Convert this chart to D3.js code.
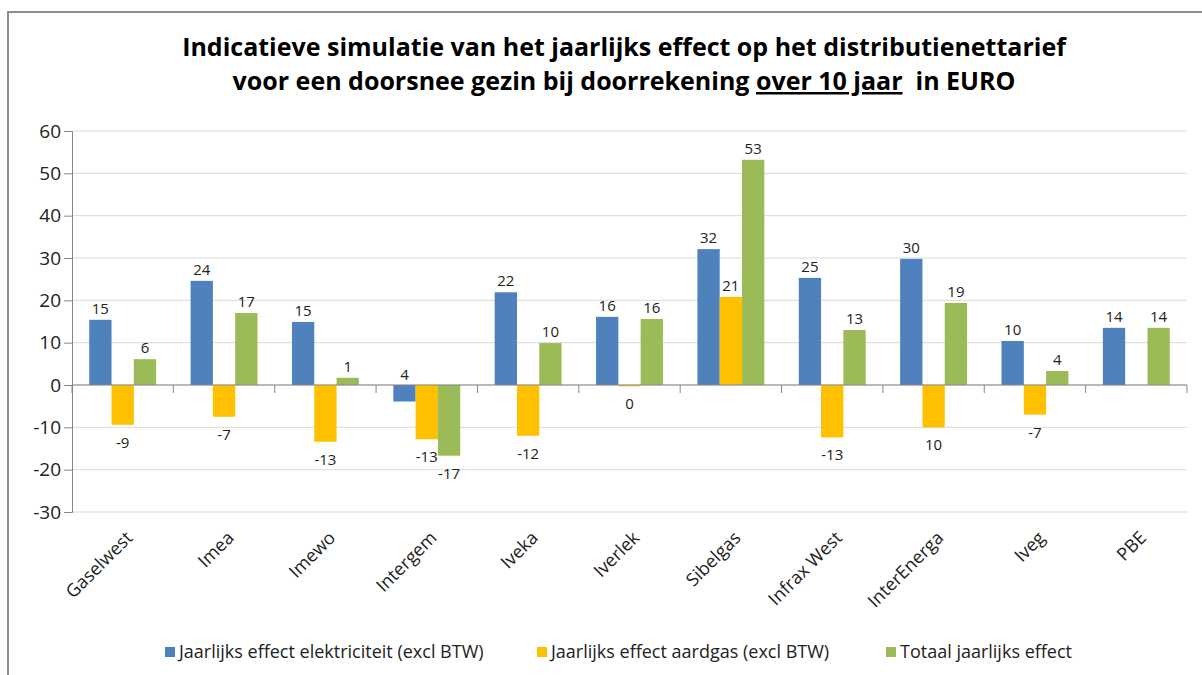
<!DOCTYPE html>
<html><head><meta charset="utf-8">
<script src="https://cdn.jsdelivr.net/npm/d3@7"></script>
<style>body{margin:0;background:#fff}svg{display:block}</style>
</head><body><svg id="c" width="1202" height="675"></svg>
<script>
const categories = ["Gaselwest","Imea","Imewo","Intergem","Iveka","Iverlek","Sibelgas","Infrax West","InterEnerga","Iveg","PBE"];
const seriesNames = ["Jaarlijks effect elektriciteit (excl BTW)","Jaarlijks effect aardgas (excl BTW)","Totaal jaarlijks effect"];
const elek   = [15.4, 24.6, 14.9, -3.9, 21.9, 16.1, 32.1, 25.3, 29.8, 10.4, 13.5];
const gas    = [-9.4, -7.5, -13.4, -12.8, -12.0, -0.3, 20.8, -12.4, -10.0, -7.0, null];
const totaal = [6.1, 17.0, 1.7, -16.7, 9.9, 15.6, 53.2, 13.0, 19.4, 3.3, 13.5];
const elekLabels   = ["15","24","15","4","22","16","32","25","30","10","14"];
const gasLabels    = ["-9","-7","-13","-13","-12","0","21","-13","10","-7",""];
const totaalLabels = ["6","17","1","-17","10","16","53","13","19","4","14"];
const yTicks = [60,50,40,30,20,10,0,-10,-20,-30];
const colors = ["#4F81BD","#FFC000","#9BBB59"];

(function(){
const svg = d3.select("#c");
const font = "Open Sans, Noto Sans, sans-serif";
svg.append("rect").attr("x",8).attr("y",12).attr("width",1210).attr("height",700)
  .attr("fill","none").attr("stroke","#8c8c8c").attr("stroke-width",2);

const title = svg.append("text").attr("text-anchor","middle").attr("font-family",font)
  .attr("font-weight","bold").attr("font-size",25).attr("fill","#000")
  .attr("xml:space","preserve");
title.append("tspan").attr("x",624).attr("y",56).text("Indicatieve simulatie van het jaarlijks effect op het distributienettarief");
const l2 = title.append("tspan").attr("x",624).attr("y",90);
l2.append("tspan").text("voor een doorsnee gezin bij doorrekening ");
l2.append("tspan").attr("text-decoration","underline").text("over 10 jaar");
l2.append("tspan").text("  in EURO");

const pl = 72, pr = 1187, pt = 131, pb = 512;
const x = d3.scaleBand().domain(categories).range([pl,pr]).paddingInner(0).paddingOuter(0);
const y = d3.scaleLinear().domain([-30,60]).range([pb,pt]);
const groupPad = 0.17;
const x1 = d3.scaleBand().domain([0,1,2]).range([x.bandwidth()*groupPad, x.bandwidth()*(1-groupPad)]);

svg.append("g").selectAll("line").data(yTicks).join("line")
  .attr("x1",pl).attr("x2",pr).attr("y1",d=>y(d)).attr("y2",d=>y(d))
  .attr("stroke","#d9d9d9").attr("stroke-width",1);

const yAxis = svg.append("g").attr("transform",`translate(${pl},0)`)
  .call(d3.axisLeft(y).tickValues(yTicks).tickSize(8).tickPadding(3).tickFormat(d => String(d)));
yAxis.select(".domain").attr("stroke","#868686");
yAxis.selectAll(".tick line").attr("stroke","#868686");
yAxis.selectAll("text").attr("font-family",font).attr("font-size",19).attr("fill","#222");

const series = [elek, gas, totaal];
const labels = [elekLabels, gasLabels, totaalLabels];
series.forEach((vals, si) => {
  const g = svg.append("g");
  g.selectAll("rect").data(categories.map((c,i)=>({c, v: vals[i]})).filter(d=>d.v!==null)).join("rect")
    .attr("x", d => x(d.c) + x1(si))
    .attr("width", x1.bandwidth())
    .attr("y", d => y(Math.max(0,d.v)))
    .attr("height", d => Math.abs(y(d.v)-y(0)))
    .attr("fill", colors[si]);
  g.selectAll("text").data(categories.map((c,i)=>({c, v: vals[i], t: labels[si][i]})).filter(d=>d.t!=="")).join("text")
    .attr("x", d => x(d.c) + x1(si) + x1.bandwidth()/2)
    .attr("y", d => d.v >= 0 ? y(d.v) - 6 : (si===0 ? y(0) - 5 : y(d.v) + 23))
    .attr("text-anchor","middle").attr("font-family",font).attr("font-size",15).attr("fill","#222")
    .text(d => d.t);
});

const xAxis = svg.append("g").attr("transform",`translate(0,${y(0)})`);
xAxis.append("line").attr("x1",pl).attr("x2",pr).attr("stroke","#868686");
xAxis.selectAll(".tk").data(d3.range(categories.length+1)).join("line")
  .attr("x1",i=>pl+i*x.bandwidth()).attr("x2",i=>pl+i*x.bandwidth())
  .attr("y1",0).attr("y2",8).attr("stroke","#868686");

svg.append("g").selectAll("text").data(categories).join("text")
  .attr("transform", d => `translate(${x(d)+x.bandwidth()/2+11},${pb+27}) rotate(-45)`)
  .attr("text-anchor","end").attr("font-family",font).attr("font-size",18).attr("fill","#222")
  .text(d=>d);

const legX = [165, 537, 886];
const leg = svg.append("g");
seriesNames.forEach((n,i)=>{
  leg.append("rect").attr("x",legX[i]).attr("y",647).attr("width",10).attr("height",10).attr("fill",colors[i]);
  leg.append("text").attr("x",legX[i]+14).attr("y",658).attr("font-family",font).attr("font-size",18).attr("fill","#222").text(n);
});
})();
</script></body></html>
